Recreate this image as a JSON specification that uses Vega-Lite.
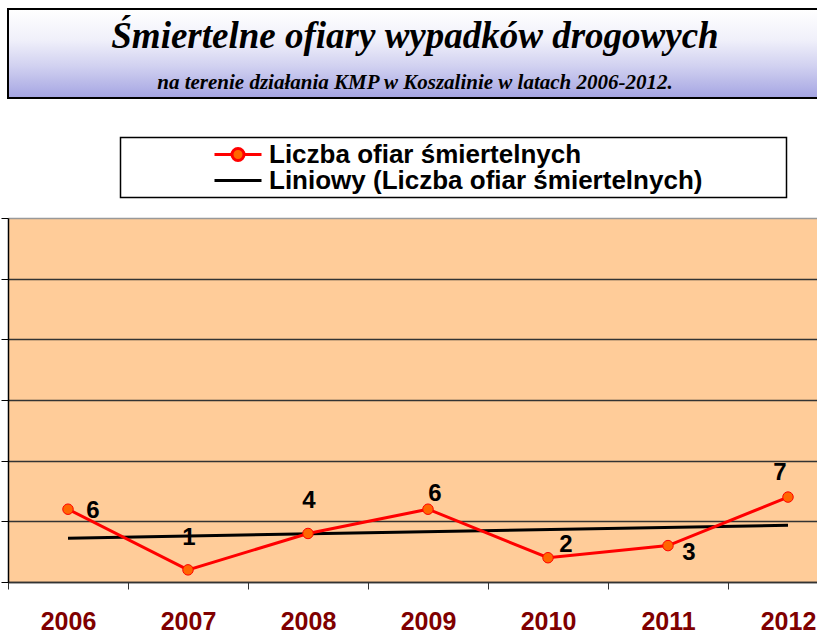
{
  "$schema": "https://vega.github.io/schema/vega-lite/v6.json",
  "background": "white",
  "padding": {"left": 0, "top": 8, "right": 0, "bottom": 0},
  "autosize": {"type": "pad"},
  "bounds": "flush",
  "spacing": 120,
  "config": {"font": "Liberation Sans", "view": {"stroke": null}},
  "datasets": {
    "victims": [
      {"year": 2006, "value": 6},
      {"year": 2007, "value": 1},
      {"year": 2008, "value": 4},
      {"year": 2009, "value": 6},
      {"year": 2010, "value": 2},
      {"year": 2011, "value": 3},
      {"year": 2012, "value": 7}
    ]
  },
  "vconcat": [
    {
      "width": 814,
      "height": 89,
      "view": {
        "fill": {"gradient": "linear", "x1": 0, "y1": 0, "x2": 0, "y2": 1,
          "stops": [
            {"offset": 0, "color": "#FFFFFF"},
            {"offset": 0.35, "color": "#F0F0FA"},
            {"offset": 0.65, "color": "#D0D0F0"},
            {"offset": 1, "color": "#A4A4E2"}
          ]},
        "stroke": "black",
        "strokeWidth": 2
      },
      "title": {
        "text": "Śmiertelne ofiary wypadków drogowych",
        "subtitle": "na terenie działania KMP w Koszalinie w latach 2006-2012.",
        "anchor": "middle",
        "frame": "group",
        "orient": "top",
        "offset": -85,
        "font": "Liberation Serif",
        "fontSize": 37,
        "fontStyle": "italic",
        "fontWeight": "bold",
        "color": "black",
        "subtitleFont": "Liberation Serif",
        "subtitleFontSize": 21,
        "subtitleFontStyle": "italic",
        "subtitleFontWeight": "bold",
        "subtitleColor": "black",
        "subtitlePadding": 16
      },
      "data": {"values": [{"t": ""}]},
      "mark": {"type": "text"},
      "encoding": {"text": {"field": "t"}}
    },
    {
      "width": 840,
      "height": 364,
      "view": {"fill": "#FFCC99", "stroke": null},
      "data": {"name": "victims"},
      "encoding": {
        "x": {
          "field": "year",
          "type": "ordinal",
          "scale": {"type": "band", "paddingInner": 0, "paddingOuter": 0},
          "axis": {
            "title": null,
            "labelAngle": 0,
            "labelFont": "Liberation Sans",
            "labelFontSize": 25,
            "labelFontWeight": "bold",
            "labelColor": "#800000",
            "labelPadding": 20,
            "tickBand": "extent",
            "tickSize": 7,
            "tickColor": "#333333",
            "domainColor": "#333333",
            "domainWidth": 1.5,
            "grid": false
          }
        },
        "y": {
          "field": "value",
          "type": "quantitative",
          "scale": {"domain": [0, 30], "nice": false},
          "axis": {
            "title": null,
            "labels": false,
            "values": [0, 5, 10, 15, 20, 25, 30],
            "tickSize": 7,
            "tickColor": "black",
            "domainColor": "black",
            "domainWidth": 1.5,
            "grid": true,
            "gridColor": {"condition": {"test": "datum.value === 30", "value": "#999999"}, "value": "#333333"},
            "gridWidth": 1.5,
            "minExtent": 0
          }
        }
      },
      "layer": [
        {
          "transform": [{"regression": "value", "on": "year"}],
          "mark": {"type": "line", "strokeWidth": 3},
          "encoding": {
            "stroke": {
              "datum": "Liniowy (Liczba ofiar śmiertelnych)",
              "type": "nominal",
              "scale": {
                "domain": ["Liczba ofiar śmiertelnych", "Liniowy (Liczba ofiar śmiertelnych)"],
                "range": ["#FF0000", "#000000"]
              },
              "legend": {
                "title": null,
                "orient": "none",
                "legendX": 112.5,
                "legendY": 128.5,
                "direction": "vertical",
                "fillColor": "white",
                "strokeColor": "black",
                "padding": 4,
                "symbolOffset": 100.5,
                "symbolSize": 400,
                "symbolStrokeWidth": 3,
                "labelFont": "Liberation Sans",
                "labelFontWeight": "bold",
                "labelFontSize": 26,
                "labelColor": "black",
                "labelOffset": 18,
                "labelLimit": 900,
                "labelExpr": "datum.label + '\u00a0\u00a0\u00a0\u00a0\u00a0\u00a0\u00a0\u00a0\u00a0\u00a0\u00a0\u200b'",
                "rowPadding": -4,
                "encode": {
                  "legend": {"update": {"strokeWidth": {"value": 1.5}}},
                  "symbols": {
                    "update": {
                      "shape": [
                        {"test": "datum.value === 'Liczba ofiar śmiertelnych'", "value": "M-2.35,0H-0.6A0.6,0.6,0,1,1,0.6,0A0.6,0.6,0,1,1,-0.6,0ZM0.6,0H2.35"},
                        {"value": "M-2.35,0H2.35"}
                      ],
                      "fill": [
                        {"test": "datum.value === 'Liczba ofiar śmiertelnych'", "value": "#FF6600"},
                        {"value": "transparent"}
                      ],
                      "opacity": {"value": 1}
                    }
                  }
                }
              }
            }
          }
        },
        {
          "mark": {"type": "line", "strokeWidth": 3},
          "encoding": {"stroke": {"datum": "Liczba ofiar śmiertelnych", "type": "nominal"}}
        },
        {
          "mark": {"type": "circle", "size": 110, "fill": "#FF6600", "stroke": "#FF0000", "strokeWidth": 1, "opacity": 1}
        },
        {
          "transform": [{"filter": "datum.year === 2006"}],
          "mark": {"type": "text", "dx": 25, "dy": 2, "font": "Liberation Sans", "fontWeight": "bold", "fontSize": 24, "baseline": "middle", "align": "center", "color": "black"},
          "encoding": {"text": {"field": "value"}}
        },
        {
          "transform": [{"filter": "datum.year === 2007 || datum.year === 2008"}],
          "mark": {"type": "text", "dx": 1, "dy": -32, "font": "Liberation Sans", "fontWeight": "bold", "fontSize": 24, "baseline": "middle", "align": "center", "color": "black"},
          "encoding": {"text": {"field": "value"}}
        },
        {
          "transform": [{"filter": "datum.year === 2009"}],
          "mark": {"type": "text", "dx": 7, "dy": -15, "font": "Liberation Sans", "fontWeight": "bold", "fontSize": 24, "baseline": "middle", "align": "center", "color": "black"},
          "encoding": {"text": {"field": "value"}}
        },
        {
          "transform": [{"filter": "datum.year === 2010"}],
          "mark": {"type": "text", "dx": 18, "dy": -13, "font": "Liberation Sans", "fontWeight": "bold", "fontSize": 24, "baseline": "middle", "align": "center", "color": "black"},
          "encoding": {"text": {"field": "value"}}
        },
        {
          "transform": [{"filter": "datum.year === 2011"}],
          "mark": {"type": "text", "dx": 21, "dy": 7, "font": "Liberation Sans", "fontWeight": "bold", "fontSize": 24, "baseline": "middle", "align": "center", "color": "black"},
          "encoding": {"text": {"field": "value"}}
        },
        {
          "transform": [{"filter": "datum.year === 2012"}],
          "mark": {"type": "text", "dx": -8, "dy": -24, "font": "Liberation Sans", "fontWeight": "bold", "fontSize": 24, "baseline": "middle", "align": "center", "color": "black"},
          "encoding": {"text": {"field": "value"}}
        }
      ]
    }
  ]
}
